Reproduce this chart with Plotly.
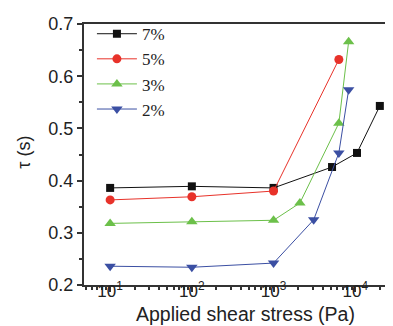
import plotly.graph_objects as go

x7 = [10, 100, 1000, 5200, 10500, 20000]
y7 = [0.386, 0.389, 0.386, 0.426, 0.453, 0.543]
x5 = [10, 100, 1000, 6300]
y5 = [0.363, 0.369, 0.380, 0.632]
x3 = [10, 100, 1000, 2100, 6300, 8300]
y3 = [0.318, 0.321, 0.324, 0.357, 0.510, 0.666]
x2 = [10, 100, 1000, 3100, 6300, 8300]
y2 = [0.236, 0.234, 0.242, 0.325, 0.453, 0.574]

xtick_vals = [10, 100, 1000, 10000]
xtick_text = ["10<sup>1</sup>", "10<sup>2</sup>", "10<sup>3</sup>", "10<sup>4</sup>"]
xminor_vals = [m * d for d in (1, 10, 100, 1000, 10000) for m in range(2, 10)]

series = [
    ("7%", x7, y7, "#111111", "square", 8),
    ("5%", x5, y5, "#e8322a", "circle", 9),
    ("3%", x3, y3, "#6cc04a", "triangle-up", 10),
    ("2%", x2, y2, "#3b4fa3", "triangle-down", 10),
]

fig = go.Figure()
for name, xs, ys, col, sym, sz in series:
    fig.add_trace(go.Scatter(
        x=xs, y=ys, name=name, mode="lines+markers",
        line=dict(color=col, width=1),
        marker=dict(symbol=sym, size=sz, color=col),
    ))

fig.update_layout(
    width=393, height=326,
    margin=dict(l=76, r=0, t=16, b=49),
    paper_bgcolor="white", plot_bgcolor="white",
    showlegend=True,
    legend=dict(x=0.025, y=1.03, xanchor="left", yanchor="top",
                font=dict(family="Liberation Serif", size=17, color="#222"),
                bgcolor="rgba(0,0,0,0)", tracegroupgap=0, itemwidth=40),
    font=dict(family="Liberation Sans", color="#222"),
    annotations=[
        dict(text="Applied shear stress (Pa)", xref="paper", yref="paper",
             x=0.51, y=0, xanchor="center", yanchor="top", yshift=-16,
             showarrow=False, font=dict(size=19.5, color="#222")),
        dict(text="τ (s)", xref="paper", yref="paper",
             x=-0.19, y=0.51, xanchor="center", yanchor="middle",
             textangle=-90, showarrow=False, font=dict(size=18, color="#222")),
    ],
)
fig.update_xaxes(
    type="log", range=[0.68, 4.56],
    showgrid=False, zeroline=False,
    showline=True, linecolor="#333", linewidth=2, mirror=True,
    ticks="outside", ticklen=5, tickwidth=1.5, tickcolor="#333",
    tickvals=xtick_vals, ticktext=xtick_text,
    tickfont=dict(size=17), ticklabelstandoff=-15,
    minor=dict(ticks="outside", ticklen=3, tickcolor="#333", tickvals=xminor_vals, showgrid=False),
)
fig.update_yaxes(
    range=[0.2, 0.7],
    showgrid=False, zeroline=False,
    showline=True, linecolor="#333", linewidth=2, mirror=False,
    ticks="outside", ticklen=5, tickwidth=1.5, tickcolor="#333",
    dtick=0.1, tickformat=".1f",
    tickfont=dict(size=18),
    minor=dict(ticks="outside", ticklen=3, tickcolor="#333", dtick=0.05, showgrid=False),
)

fig.write_html("out.html")
